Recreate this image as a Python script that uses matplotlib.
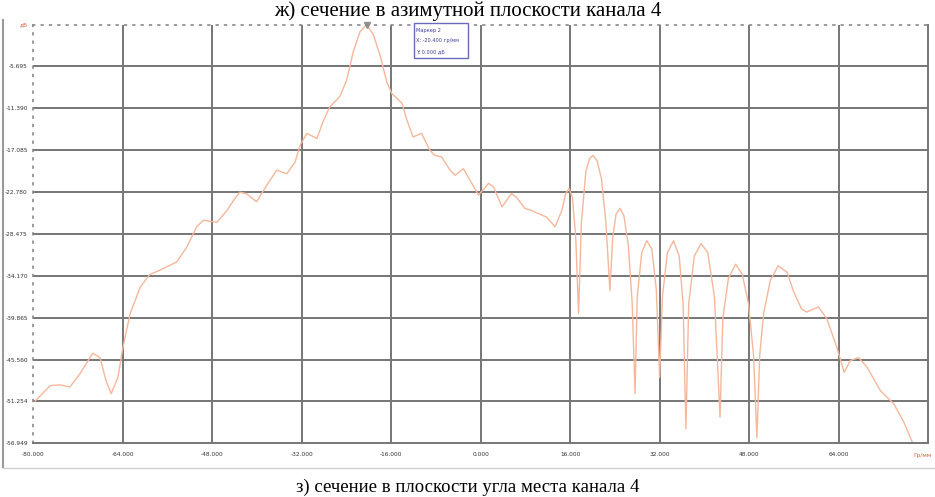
import matplotlib.pyplot as plt
from matplotlib.lines import Line2D
from matplotlib.patches import Rectangle

# угол (град) и уровень (дБ)
angle = [-79.7, -77.0, -75.2, -73.5, -71.7, -69.4, -68.1, -67.0, -66.1, -64.9, -64.0,
         -62.7, -60.9, -59.2, -56.8, -54.4, -52.6, -50.8, -49.6, -47.2, -45.4, -44.2,
         -43.1, -41.9, -40.1, -38.3, -36.5, -34.7, -33.2, -32.3, -31.1, -29.3, -28.2,
         -27.0, -25.2, -24.0, -22.8, -21.6, -20.4, -19.2, -18.0, -16.8, -15.9, -14.1,
         -13.2, -12.1, -10.6, -9.1, -8.2, -7.0, -5.5, -4.6, -3.1, -1.9, -0.4, 1.4,
         2.3, 3.8, 5.5, 6.4, 7.9, 9.1, 11.8, 13.3, 14.5, 15.2, 15.8, 16.4, 17.0, 17.5,
         18.0, 18.8, 19.5, 20.1, 20.8, 21.6, 22.4, 23.1,
         23.6, 24.2, 24.9, 25.6, 26.4, 27.1, 27.6,
         28.0, 28.8, 29.7, 30.6, 31.4, 32.0,
         32.5, 33.4, 34.5, 35.5, 36.2, 36.7,
         37.2, 38.2, 39.4, 40.6, 41.8, 42.8,
         43.3, 44.3, 45.6, 46.8, 47.9, 48.8, 49.4,
         49.9, 50.6, 51.8, 53.2, 54.8, 55.9, 57.4, 58.3, 60.4, 61.9, 63.7, 65.0,
         66.1, 67.6, 69.1, 71.5, 73.9, 75.7, 77.2, 78.0]
level = [-51.2, -49.1, -49.0, -49.3, -47.5, -44.7, -45.3, -48.5, -50.2, -48.0, -43.9,
         -39.3, -35.7, -34.0, -33.2, -32.3, -30.3, -27.5, -26.6, -26.9, -25.3, -23.9,
         -22.8, -23.0, -24.1, -21.9, -19.8, -20.3, -18.7, -16.4, -14.8, -15.5, -13.2,
         -11.2, -9.8, -7.6, -3.7, -1.0, 0.0, -1.4, -4.2, -7.8, -9.4, -10.7,
         -13.0, -15.3, -14.8, -17.1, -17.8, -18.0, -19.8, -20.5, -19.6, -21.2, -23.2, -21.6,
         -22.1, -24.8, -23.0, -23.5, -25.0, -25.3, -26.2, -27.5, -25.3, -23.0, -22.3, -23.5, -29.0, -39.3,
         -27.0, -20.0, -18.2, -17.8, -18.5, -21.0, -27.0, -36.2,
         -29.0, -25.8, -25.0, -26.0, -30.0, -38.0, -50.2,
         -37.0, -31.0, -29.4, -30.5, -36.0, -48.0,
         -37.0, -31.0, -29.4, -31.5, -38.0, -55.0,
         -38.0, -31.5, -29.8, -31.0, -37.0, -53.4,
         -40.0, -34.5, -32.6, -34.0, -38.0, -45.0, -56.2,
         -45.0, -39.3, -34.8, -32.8, -33.7, -36.2, -38.7, -39.1, -38.4, -40.0, -43.9, -47.3,
         -45.7, -45.3, -46.6, -49.8, -51.6, -54.1, -56.8, -57.5]

yticks = [0, -5.695, -11.390, -17.085, -22.780, -28.475, -34.170, -39.865, -45.560, -51.254, -56.949]
ylabels = ['дБ', '-5.695', '-11.390', '-17.085', '-22.780', '-28.475', '-34.170',
           '-39.865', '-45.560', '-51.254', '-56.949']
xticks = [-80, -64, -48, -32, -16, 0, 16, 32, 48, 64]
xlabels = ['-80.000', '-64.000', '-48.000', '-32.000', '-16.000', '0.000',
           '16.000', '32.000', '48.000', '64.000']

grid_col = '#767676'
curve_col = '#f5b79b'

fig = plt.figure(figsize=(9.35, 4.97), dpi=100)
ax = fig.add_axes([0.0358, 0.108, 0.9567, 0.8427])

ax.plot(angle, level, color=curve_col, lw=1.0, solid_joinstyle='round')
ax.plot([-20.4], [0.0], marker='v', color='#909090', ms=5, clip_on=False)

ax.set_xlim(-80, 80)
ax.set_ylim(-56.949, 0)

ax.set_yticks(yticks)
ax.set_yticklabels(ylabels, fontsize=4.2, color='#333333')
ax.get_yticklabels()[0].set_color('#e05a3a')
ax.set_xticks(xticks)
ax.set_xticklabels(xlabels, fontsize=4.2, color='#333333')
ax.tick_params(length=0)
ax.tick_params(axis='y', pad=4)
ax.tick_params(axis='x', pad=6)
ax.text(79, -58.2, 'Гр/мм', fontsize=4.2, color='#e05a3a', ha='center', va='top')

for v in yticks[1:-1]:
    ax.axhline(v, color=grid_col, lw=1.4, zorder=0)
for v in xticks[1:]:
    ax.axvline(v, color=grid_col, lw=1.4, zorder=0)

for s in ['top', 'left']:
    ax.spines[s].set_linestyle((0, (1, 4)))
    ax.spines[s].set_color('#8a8a8a')
    ax.spines[s].set_linewidth(1.2)
for s in ['bottom', 'right']:
    ax.spines[s].set_color(grid_col)
    ax.spines[s].set_linewidth(1.4)

# окно маркера
ax.add_patch(Rectangle((-11.9, -4.56), 9.7, 4.76, fc='white', ec='#6a6ab8', lw=1.0,
                       zorder=5, clip_on=False))
ax.text(-11.5, -0.5, 'Маркер 2', fontsize=3.6, color='#3a3a9a', va='top', zorder=6)
ax.text(-11.5, -1.9, 'X: -20.400 гр/мм', fontsize=3.6, color='#3a3a9a', va='top', zorder=6)
ax.text(-11.5, -3.3, 'Y: 0.000 дБ', fontsize=3.6, color='#3a3a9a', va='top', zorder=6)

# рамка скриншота
fig.add_artist(Line2D([0.0035, 0.0035], [0.06, 0.96], color='#9a9a9a', lw=1.5))
fig.add_artist(Line2D([0.0035, 1.0], [0.058, 0.058], color='#d0d0d0', lw=1.0))

fig.text(0.5, 1 - 1 / 497, 'ж) сечение в азимутной плоскости канала 4', ha='center', va='top',
         fontsize=15, family='Liberation Serif')
fig.text(0.5, 1 - 487 / 497, 'з) сечение в плоскости угла места канала 4', ha='center', va='center',
         fontsize=13.5, family='Liberation Serif')

fig.savefig('out.png', dpi=100, facecolor='white')
